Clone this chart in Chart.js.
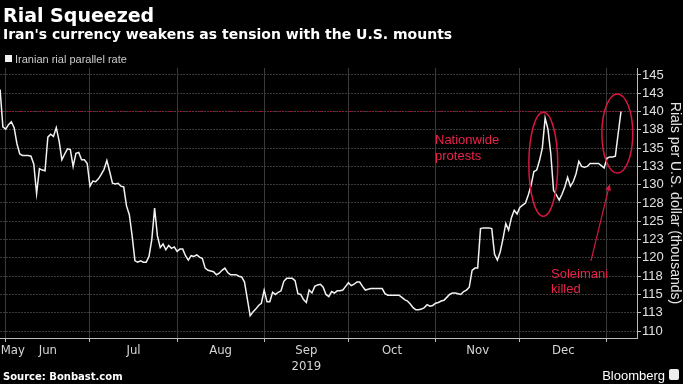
<!DOCTYPE html>
<html>
<head>
<meta charset="utf-8">
<script src="https://cdn.jsdelivr.net/npm/chart.js@4.4.1/dist/chart.umd.min.js"></script>
<style>
  html, body { margin: 0; padding: 0; background: #000; }
  #wrap { position: relative; width: 683px; height: 384px; overflow: hidden; background: #000; }
  #wrap canvas { position: absolute; left: 0; top: 0; }
  .t { position: absolute; white-space: nowrap; line-height: 1; }
  #title { left: 3px; top: 4px; font: bold 19px 'DejaVu Sans', sans-serif; color: #fff; }
  #subtitle { left: 3px; top: 26px; font: bold 14px 'DejaVu Sans', sans-serif; color: #fff; }
  #legend { left: 15px; top: 53px; font: 11px 'Liberation Sans', sans-serif; color: #ccc; }
  #legend-box { position: absolute; left: 5px; top: 55px; width: 7px; height: 7px; background: #f0f0f0; }
  #source { left: 3px; top: 371px; font: bold 10px 'DejaVu Sans', sans-serif; color: #fff; }
  #brand { right: 18px; top: 368px; font: 13px 'Liberation Sans', sans-serif; color: #fff; }
  #icon { position: absolute; right: 4px; top: 369px; width: 10px; height: 11px; background: #eee; border-radius: 2px; }
</style>
</head>
<body>
<div id="wrap">
  <canvas id="chart" width="683" height="384"></canvas>
  <div class="t" id="title">Rial Squeezed</div>
  <div class="t" id="subtitle">Iran's currency weakens as tension with the U.S. mounts</div>
  <div id="legend-box"></div>
  <div class="t" id="legend">Iranian rial parallel rate</div>
  <div class="t" id="source">Source: Bonbast.com</div>
  <div class="t" id="brand">Bloomberg</div>
  <div id="icon"></div>
</div>
<script>
// days counted from Jun 1, 2019
const mayStart = -2;
const monthStarts = [0, 30, 61, 92, 122, 153, 183, 214]; // Jun 1 .. Jan 1
const monthLabels = ['May', 'Jun', 'Jul', 'Aug', ['Sep', '2019'], 'Oct', 'Nov', 'Dec'];
const labelDays = [2.5, 15, 45.5, 76.5, 107, 137.5, 168, 198.5];

// Iranian rial parallel rate, thousands per U.S. dollar
const rateMay = [143.0, 137.9];
const rateJun = [137.6, 138.2, 138.6, 137.8, 135.6, 134.2, 134.0, 134.0, 134.0, 133.9,
                 132.8, 128.8, 132.2, 132.0, 131.9, 136.5, 136.9, 136.6, 137.8, 136.0,
                 133.4, 134.2, 134.9, 134.8, 132.5, 134.3, 134.4, 133.4, 133.4, 132.9];
const rateJul = [129.8, 130.5, 130.4, 130.8, 131.4, 132.1, 133.3, 131.8, 130.2, 130.1,
                 130.2, 129.8, 129.7, 127.1, 125.9, 123.0, 119.6, 119.4, 119.6, 119.4,
                 119.4, 120.2, 122.5, 126.8, 123.0, 121.4, 121.9, 121.1, 121.7, 121.3, 121.5];
const rateAug = [120.9, 121.2, 121.2, 120.3, 119.7, 120.3, 120.2, 120.4, 120.1, 119.9,
                 118.6, 118.3, 118.2, 118.1, 117.7, 117.9, 118.3, 118.6, 118.0, 117.7,
                 117.7, 117.7, 117.5, 117.4, 116.7, 114.4, 112.1, 112.6, 113.0, 113.5, 113.8];
const rateSep = [115.6, 114.0, 114.0, 115.3, 115.0, 115.3, 115.5, 116.8, 117.2, 117.2,
                 117.2, 116.9, 115.1, 115.0, 114.3, 113.9, 115.6, 115.2, 116.1, 116.3,
                 116.4, 116.0, 115.0, 114.7, 115.4, 115.2, 115.5, 115.5, 115.6, 116.1];
const rateOct = [116.6, 116.2, 116.4, 116.7, 116.7, 116.1, 115.6, 115.7, 115.8, 115.8,
                 115.8, 115.8, 115.8, 115.1, 114.9, 114.9, 114.9, 114.9, 114.9, 114.6,
                 114.3, 114.1, 113.7, 113.2, 112.9, 112.9, 113.0, 113.2, 113.6, 113.4, 113.5];
const rateNov = [113.8, 113.9, 114.1, 114.2, 114.6, 115.0, 115.2, 115.2, 115.1, 115.0,
                 115.4, 115.6, 116.0, 118.3, 118.6, 118.6, 124.0, 124.1, 124.1, 124.1,
                 124.0, 120.5, 119.7, 120.8, 122.6, 124.7, 123.8, 125.5, 126.5, 126.0];
const rateDec = [126.9, 127.2, 127.5, 128.6, 129.9, 131.8, 132.0, 133.3, 135.0, 139.1,
                 137.6, 134.3, 129.2, 128.6, 127.9, 128.7, 129.7, 131.0, 129.8, 130.4,
                 131.5, 133.2, 132.5, 132.4, 132.5, 132.9, 132.9, 132.9, 132.9, 132.6, 132.3];
const rateJan = [133.6, 133.8, 133.8, 133.9, 137.0, 140.0];

const yTicks = [110, 112.5, 115, 117.5, 120, 122.5, 125, 127.5, 130, 132.5, 135, 137.5, 140, 142.5, 145];
const refLevel = 140;

const xMin = -2.03, xMax = 224.7;
const yMin = 109.05, yMax = 145.95;

const RED = '#d8163f';
const TICK_FONT = "'Liberation Sans Narrow', 'DejaVu Sans Condensed', 'Liberation Sans', sans-serif";

const chunks = [rateMay, rateJun, rateJul, rateAug, rateSep, rateOct, rateNov, rateDec, rateJan];
const chunkStarts = [mayStart].concat(monthStarts);
const points = [];
chunks.forEach((arr, k) => {
    arr.forEach((v, i) => points.push({ x: chunkStarts[k] + i, y: v }));
});

// annotation shapes, in data units
const ovals = [
    { x1: 186.2, x2: 196.5, y1: 125.7, y2: 139.9 },
    { x1: 212.2, x2: 223.2, y1: 131.6, y2: 142.4 }
];
const notes = [
    { x: 152.8, y: 136.0, lines: ['Nationwide', 'protests'] },
    { x: 194.1, y: 117.8, lines: ['Soleimani', 'killed'] }
];
const arrow = { x1: 208.3, y1: 119.6, x2: 215.0, y2: 130.1 };

const annotations = {
    id: 'annotations',
    afterDatasetsDraw(chart) {
        const ctx = chart.ctx;
        const xs = chart.scales.x, ys = chart.scales.y;
        ctx.save();
        ctx.strokeStyle = RED;
        ctx.lineWidth = 1.5;
        ovals.forEach(o => {
            const l = xs.getPixelForValue(o.x1), r = xs.getPixelForValue(o.x2);
            const t = ys.getPixelForValue(o.y2), b = ys.getPixelForValue(o.y1);
            ctx.beginPath();
            ctx.ellipse((l + r) / 2, (t + b) / 2, (r - l) / 2, (b - t) / 2, 0, 0, Math.PI * 2);
            ctx.stroke();
        });

        // arrow to the January jump
        const ax1 = xs.getPixelForValue(arrow.x1), ay1 = ys.getPixelForValue(arrow.y1);
        const ax2 = xs.getPixelForValue(arrow.x2), ay2 = ys.getPixelForValue(arrow.y2);
        const ang = Math.atan2(ay2 - ay1, ax2 - ax1);
        ctx.lineWidth = 1.2;
        ctx.beginPath();
        ctx.moveTo(ax1, ay1);
        ctx.lineTo(ax2 - 4 * Math.cos(ang), ay2 - 4 * Math.sin(ang));
        ctx.stroke();
        ctx.fillStyle = RED;
        ctx.beginPath();
        ctx.moveTo(ax2, ay2);
        ctx.lineTo(ax2 - 7 * Math.cos(ang - 0.4), ay2 - 7 * Math.sin(ang - 0.4));
        ctx.lineTo(ax2 - 7 * Math.cos(ang + 0.4), ay2 - 7 * Math.sin(ang + 0.4));
        ctx.closePath();
        ctx.fill();

        ctx.font = "13px 'Liberation Sans', sans-serif";
        ctx.textAlign = 'left';
        ctx.textBaseline = 'middle';
        ctx.fillStyle = '#e8234a';
        notes.forEach(n => {
            const px = xs.getPixelForValue(n.x), py = ys.getPixelForValue(n.y);
            n.lines.forEach((s, i) => ctx.fillText(s, px, py + i * 15.5));
        });
        ctx.restore();
    }
};

new Chart(document.getElementById('chart'), {
    type: 'line',
    data: {
        datasets: [{
            label: 'Iranian rial parallel rate',
            data: points,
            borderColor: '#f2f2f2',
            borderWidth: 1.5,
            pointRadius: 0,
            tension: 0
        }, {
            label: 'ref',
            data: [{ x: xMin, y: refLevel }, { x: xMax, y: refLevel }],
            borderColor: '#b0163a',
            borderWidth: 1,
            borderDash: [1, 1.5],
            pointRadius: 0
        }]
    },
    options: {
        responsive: false,
        animation: false,
        layout: { padding: { top: 68, left: 0, right: 0, bottom: 0 } },
        plugins: {
            legend: { display: false },
            tooltip: { enabled: false }
        },
        scales: {
            x: {
                type: 'linear',
                min: xMin,
                max: xMax,
                afterBuildTicks: s => {
                    s.ticks = monthStarts.concat(labelDays).sort((a, b) => a - b).map(v => ({ value: v }));
                },
                afterFit: s => { s.height = 46; },
                grid: {
                    color: c => monthStarts.includes(c.tick && c.tick.value) ? '#3a3a3a' : 'transparent',
                    tickColor: c => monthStarts.includes(c.tick && c.tick.value) ? '#bbbbbb' : 'transparent',
                    tickLength: 4
                },
                border: { display: true, color: '#bbbbbb', width: 1 },
                ticks: {
                    autoSkip: false,
                    maxRotation: 0,
                    padding: 0,
                    color: '#d6d6d6',
                    font: { family: TICK_FONT, size: 13, lineHeight: 1.25 },
                    callback: v => {
                        const i = labelDays.indexOf(v);
                        return i >= 0 ? monthLabels[i] : '';
                    }
                }
            },
            y: {
                position: 'right',
                min: yMin,
                max: yMax,
                afterBuildTicks: s => { s.ticks = yTicks.map(v => ({ value: v })); },
                afterFit: s => { s.width = 46; },
                grid: { color: '#3a3a3a', tickColor: '#bbbbbb', tickLength: 4 },
                border: { display: true, color: '#bbbbbb', width: 1, dash: [2, 1] },
                ticks: {
                    padding: 1,
                    color: '#e0e0e0',
                    font: { family: "'Liberation Sans', sans-serif", size: 13 },
                    callback: v => Math.round(v)
                },
                title: {
                    display: true,
                    text: 'Rials per U.S. dollar (thousands)',
                    color: '#e6e6e6',
                    font: { family: "'Liberation Sans', sans-serif", size: 14 },
                    padding: 0
                }
            }
        }
    },
    plugins: [annotations]
});
</script>
</body>
</html>
